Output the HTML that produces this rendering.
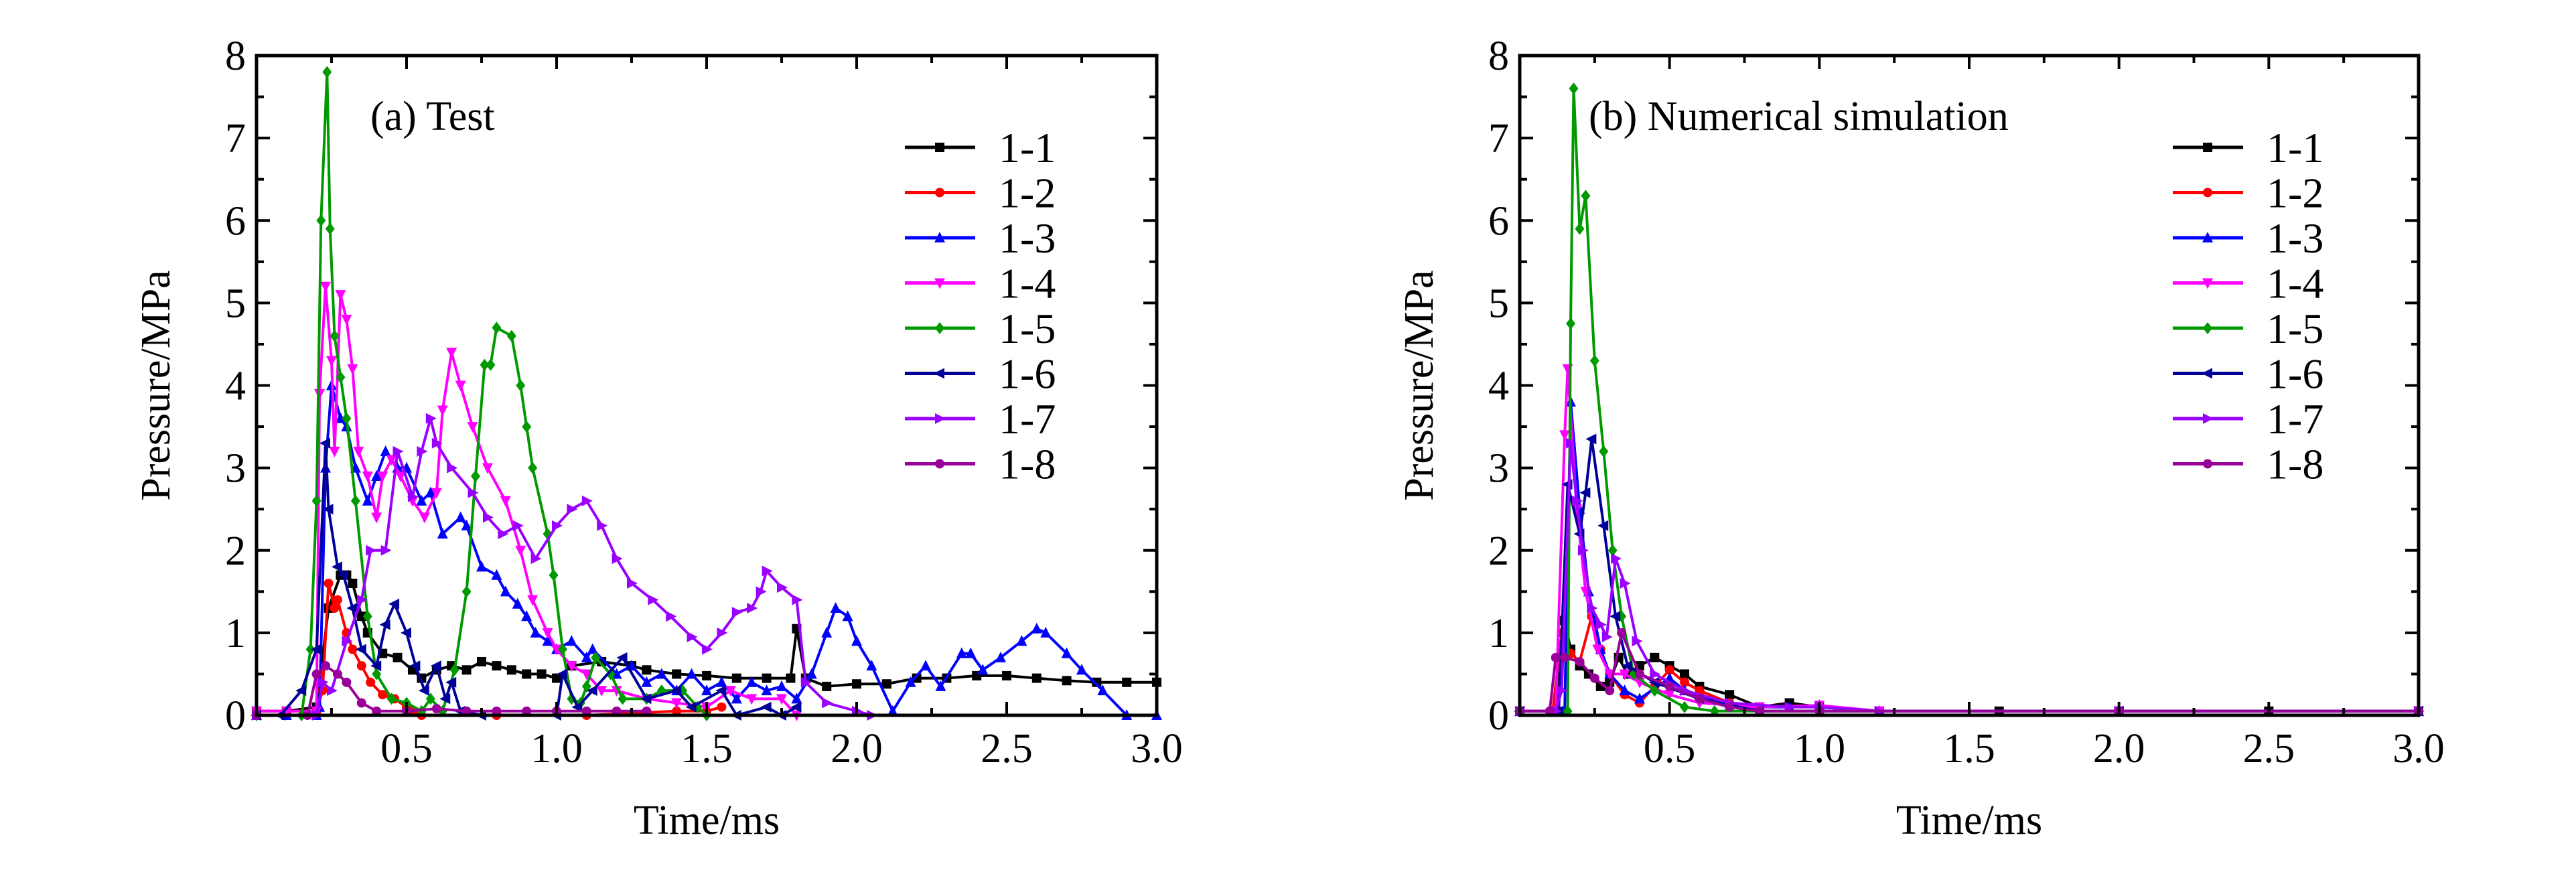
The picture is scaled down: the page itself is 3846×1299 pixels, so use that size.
<!DOCTYPE html>
<html><head><meta charset="utf-8"><style>
html,body{margin:0;padding:0;background:#fff;}
svg{display:block;}
text{font-family:"Liberation Serif","DejaVu Serif",serif;}
</style></head><body>
<svg id="chart" width="3846" height="1299" viewBox="0 0 3846 1299" xmlns="http://www.w3.org/2000/svg" font-family="'Liberation Serif', serif"></svg>
<script>
const xTicks=[0.5,1.0,1.5,2.0,2.5,3.0];
const yTicks=[0,1,2,3,4,5,6,7,8];
const seriesNames=["1-1","1-2","1-3","1-4","1-5","1-6","1-7","1-8"];
const seriesColors=["#000000","#ff0000","#0000ff","#ff00ff","#009900","#000099","#9900ff","#990099"];
const seriesMarkers=["square","circle","up","down","diamond","left","right","circle"];

// (a) Test
const aT1=[0,0.1,0.2,0.24,0.28,0.3,0.32,0.35,0.37,0.42,0.47,0.52,0.55,0.6,0.65,0.7,0.75,0.8,0.85,0.9,0.95,1.0,1.05,1.15,1.25,1.3,1.4,1.5,1.6,1.7,1.78,1.8,1.83,1.9,2.0,2.1,2.2,2.3,2.4,2.5,2.6,2.7,2.8,2.9,3.0];
const aP1=[0.05,0.05,0.1,1.3,1.7,1.7,1.6,1.2,1.0,0.75,0.7,0.55,0.45,0.55,0.6,0.55,0.65,0.6,0.55,0.5,0.5,0.45,0.6,0.65,0.6,0.55,0.5,0.48,0.45,0.45,0.45,1.05,0.45,0.35,0.38,0.38,0.45,0.45,0.48,0.48,0.45,0.42,0.4,0.4,0.4];
const aT2=[0,0.1,0.2,0.22,0.24,0.26,0.27,0.3,0.32,0.35,0.38,0.42,0.46,0.5,0.52,0.55,0.8,1.1,1.4,1.5,1.55];
const aP2=[0.05,0.05,0.05,0.3,1.6,1.3,1.4,1.0,0.8,0.6,0.4,0.25,0.2,0.1,0.05,0,0,0,0.05,0.05,0.1];
const aT3=[0,0.1,0.2,0.21,0.23,0.25,0.28,0.3,0.33,0.37,0.4,0.43,0.47,0.5,0.55,0.58,0.62,0.68,0.7,0.75,0.8,0.83,0.87,0.9,0.93,0.97,1.0,1.05,1.1,1.12,1.2,1.25,1.3,1.35,1.4,1.45,1.5,1.55,1.6,1.65,1.7,1.75,1.8,1.85,1.9,1.93,1.97,2.0,2.05,2.12,2.18,2.23,2.28,2.35,2.38,2.42,2.48,2.55,2.6,2.63,2.7,2.75,2.82,2.9,3.0];
const aP3=[0,0,0,0.1,3.0,4.0,3.6,3.5,3.0,2.6,2.9,3.2,3.0,3.0,2.6,2.7,2.2,2.4,2.3,1.8,1.7,1.5,1.35,1.2,1.0,0.9,0.8,0.9,0.7,0.8,0.5,0.6,0.4,0.5,0.3,0.5,0.3,0.4,0.2,0.4,0.3,0.35,0.2,0.5,1.0,1.3,1.2,0.9,0.6,0.05,0.4,0.6,0.35,0.75,0.75,0.55,0.7,0.9,1.05,1.0,0.75,0.55,0.3,0,0];
const aT4=[0,0.1,0.2,0.21,0.23,0.25,0.26,0.28,0.3,0.32,0.34,0.37,0.4,0.42,0.45,0.48,0.52,0.56,0.6,0.62,0.65,0.68,0.72,0.77,0.83,0.88,0.92,0.97,1.0,1.05,1.1,1.15,1.2,1.3,1.4,1.5,1.58,1.65,1.75,1.8];
const aP4=[0.05,0.05,0.05,3.9,5.2,4.3,3.2,5.1,4.8,4.2,3.2,2.9,2.4,2.9,3.1,2.9,2.6,2.4,2.7,3.7,4.4,4.0,3.5,3.0,2.6,2.0,1.4,1.0,0.8,0.6,0.5,0.3,0.3,0.2,0.15,0.1,0.3,0.2,0.2,0];
const aT5=[0,0.15,0.18,0.2,0.215,0.235,0.245,0.26,0.28,0.3,0.33,0.37,0.4,0.45,0.5,0.55,0.58,0.62,0.66,0.7,0.73,0.76,0.78,0.8,0.85,0.88,0.9,0.92,0.97,0.99,1.02,1.05,1.08,1.1,1.13,1.18,1.22,1.3,1.35,1.42,1.47,1.5];
const aP5=[0,0,0.8,2.6,6.0,7.8,5.9,4.6,4.1,3.6,2.6,1.2,0.5,0.2,0.15,0.05,0.2,0.05,0.55,1.5,2.9,4.25,4.25,4.7,4.6,4.0,3.5,3.0,2.2,1.7,0.8,0.2,0.15,0.35,0.7,0.5,0.2,0.2,0.3,0.3,0.1,0];
const aT6=[0,0.08,0.15,0.2,0.23,0.24,0.27,0.29,0.32,0.35,0.4,0.43,0.46,0.5,0.53,0.56,0.6,0.63,0.65,0.68,0.75,1.0,1.02,1.07,1.12,1.22,1.3,1.4,1.45,1.55,1.6,1.7,1.75,1.8];
const aP6=[0,0,0.3,0.8,3.3,2.5,1.8,1.7,1.3,0.8,0.6,1.1,1.35,1.0,0.6,0.3,0.6,0.2,0.4,0.05,0,0,0.5,0.1,0.3,0.7,0.2,0.3,0.1,0.3,0,0.1,0,0.1];
const aT7=[0,0.2,0.22,0.25,0.3,0.35,0.38,0.43,0.47,0.52,0.55,0.58,0.6,0.65,0.72,0.77,0.82,0.87,0.93,1.0,1.05,1.1,1.15,1.2,1.25,1.32,1.38,1.45,1.5,1.55,1.6,1.65,1.68,1.7,1.75,1.8,1.83,1.9,2.0,2.05];
const aP7=[0,0,0.4,0.3,0.9,1.4,2.0,2.0,3.2,2.65,3.2,3.6,3.3,3.0,2.7,2.4,2.2,2.3,1.9,2.3,2.5,2.6,2.3,1.9,1.6,1.4,1.2,0.95,0.8,1.0,1.25,1.3,1.5,1.75,1.55,1.4,0.4,0.15,0.05,0];
const aT8=[0,0.17,0.2,0.23,0.27,0.3,0.35,0.4,0.5,0.6,0.7,0.8,0.9,1.0,1.1,1.2,1.3];
const aP8=[0,0,0.5,0.6,0.5,0.4,0.15,0.05,0.05,0.08,0.05,0.05,0.05,0.05,0.05,0.05,0.05];

// (b) Numerical simulation
const bT1=[0,0.12,0.15,0.17,0.2,0.23,0.27,0.3,0.33,0.36,0.4,0.45,0.5,0.55,0.6,0.7,0.8,0.9,1.0,1.2,1.6,2.0,2.5,3.0];
const bP1=[0.05,0.05,1.15,0.8,0.6,0.5,0.35,0.4,0.7,0.5,0.6,0.7,0.6,0.5,0.35,0.25,0.1,0.15,0.1,0.05,0.05,0.05,0.05,0.05];
const bT2=[0,0.11,0.14,0.17,0.2,0.24,0.27,0.3,0.35,0.4,0.45,0.5,0.55,0.6,0.7,0.8,1.2,2.0,3.0];
const bP2=[0.05,0.05,1.0,0.75,0.65,1.2,0.8,0.5,0.25,0.15,0.35,0.55,0.4,0.3,0.15,0.05,0.05,0.05,0.05];
const bT3=[0,0.15,0.17,0.2,0.23,0.27,0.3,0.35,0.4,0.5,0.55,0.7,0.9,1.0,1.2,2.0,3.0];
const bP3=[0.05,0.05,3.8,2.5,1.5,0.8,0.5,0.3,0.2,0.45,0.3,0.1,0.1,0.12,0.05,0.05,0.05];
const bT4=[0,0.12,0.15,0.16,0.19,0.22,0.26,0.3,0.35,0.4,0.5,0.6,0.8,1.0,1.2,2.0,3.0];
const bP4=[0.05,0.05,3.4,4.2,2.5,1.5,0.8,0.5,0.5,0.4,0.25,0.15,0.1,0.12,0.05,0.05,0.05];
const bT5=[0,0.16,0.17,0.18,0.2,0.22,0.25,0.28,0.31,0.34,0.38,0.45,0.55,0.65,1.0,2.0,3.0];
const bP5=[0.05,0.05,4.75,7.6,5.9,6.3,4.3,3.2,2.0,1.2,0.5,0.3,0.1,0.05,0.05,0.05,0.05];
const bT6=[0,0.13,0.16,0.2,0.22,0.24,0.28,0.32,0.36,0.45,0.6,0.8,1.0,2.0,3.0];
const bP6=[0.05,0.05,2.8,2.2,2.7,3.35,2.3,1.2,0.6,0.4,0.2,0.05,0.05,0.05,0.05];
const bT7=[0,0.12,0.14,0.17,0.19,0.21,0.24,0.27,0.29,0.32,0.35,0.39,0.45,0.55,0.7,0.9,1.0,1.2,2.0,3.0];
const bP7=[0.05,0.05,0.3,3.3,2.6,2.0,1.3,1.1,0.95,1.9,1.6,0.9,0.5,0.3,0.15,0.1,0.1,0.05,0.05,0.05];
const bT8=[0,0.1,0.12,0.15,0.2,0.25,0.3,0.34,0.4,0.5,0.6,0.7,0.8,1.0,2.0,3.0];
const bP8=[0.05,0.05,0.7,0.7,0.65,0.45,0.3,1.0,0.5,0.35,0.2,0.1,0.05,0.05,0.05,0.05];

const panelA={T:[aT1,aT2,aT3,aT4,aT5,aT6,aT7,aT8],P:[aP1,aP2,aP3,aP4,aP5,aP6,aP7,aP8],x0:383,x1:1727,y0:1068,y1:83,title:"(a) Test",titleX:553,legX:1351,key:"test"};
const panelB={T:[bT1,bT2,bT3,bT4,bT5,bT6,bT7,bT8],P:[bP1,bP2,bP3,bP4,bP5,bP6,bP7,bP8],x0:2269,x1:3611,y0:1068,y1:83,title:"(b) Numerical simulation",titleX:2372,legX:3244,key:"sim"};

const NS="http://www.w3.org/2000/svg";
const FONT="Liberation Serif, DejaVu Serif, serif";
const svg=document.getElementById("chart");
function mk(tag,attrs,parent){const e=document.createElementNS(NS,tag);for(const k in attrs)e.setAttribute(k,attrs[k]);(parent||svg).appendChild(e);return e;}
function txt(attrs,parent,s){attrs["font-family"]=FONT;const e=mk("text",attrs,parent);e.textContent=s;return e;}
function marker(g,type,x,y,c){
  const s=7;let e;
  if(type==="square")e=mk("rect",{x:x-s,y:y-s,width:2*s,height:2*s,fill:c},g);
  else if(type==="circle")e=mk("circle",{cx:x,cy:y,r:s,fill:c},g);
  else{let p;
    if(type==="up")p=[[x,y-s-2],[x-s-1,y+s],[x+s+1,y+s]];
    else if(type==="down")p=[[x,y+s+2],[x-s-1,y-s],[x+s+1,y-s]];
    else if(type==="left")p=[[x-s-2,y],[x+s,y-s-1],[x+s,y+s+1]];
    else if(type==="right")p=[[x+s+2,y],[x-s,y-s-1],[x-s,y+s+1]];
    else p=[[x,y-s-2],[x+s,y],[x,y+s+2],[x-s,y]];
    e=mk("polygon",{points:p.map(q=>q.join(",")).join(" "),fill:c},g);}
  
  
}
function drawPanel(P){
  const sx=t=>P.x0+(t/3)*(P.x1-P.x0);
  const sy=v=>P.y0-(v/8)*(P.y0-P.y1);
  const g=mk("g",{});
  
  
  for(let i=0;i<8;i++){
    const sg=mk("g",{},g);
    
    
    const T=P.T[i],V=P.P[i];
    const pts=T.map((t,j)=>sx(t).toFixed(1)+","+sy(V[j]).toFixed(1)).join(" ");
    const pl=mk("polyline",{points:pts,fill:"none",stroke:seriesColors[i],"stroke-width":4,"stroke-linejoin":"round"},sg);
    
    
    T.forEach((t,j)=>marker(sg,seriesMarkers[i],sx(t),sy(V[j]),seriesColors[i]));
  }
  const fr=mk("rect",{x:P.x0,y:P.y1,width:P.x1-P.x0,height:P.y0-P.y1,fill:"none",stroke:"#000","stroke-width":5},g);
  
  
  for(let k=1;k<=12;k++){
    const t=k*0.25,x=sx(t),L=(k%2===0)?20:11;
    mk("line",{x1:x,y1:P.y0,x2:x,y2:P.y0-L,stroke:"#000","stroke-width":4},g);
    mk("line",{x1:x,y1:P.y1,x2:x,y2:P.y1+L,stroke:"#000","stroke-width":4},g);
  }
  xTicks.forEach(t=>{
    const tx=txt({x:sx(t),y:1138,"font-size":62,"text-anchor":"middle"},g,t.toFixed(1));
    
    
  });
  for(let k=1;k<16;k++){
    const v=k*0.5,y=sy(v),L=(k%2===0)?20:11;
    mk("line",{x1:P.x0,y1:y,x2:P.x0+L,y2:y,stroke:"#000","stroke-width":4},g);
    mk("line",{x1:P.x1,y1:y,x2:P.x1-L,y2:y,stroke:"#000","stroke-width":4},g);
  }
  yTicks.forEach(v=>{
    const tx=txt({x:P.x0-16,y:sy(v)+21,"font-size":62,"text-anchor":"end"},g,String(v));
    
    
  });
  const xt=txt({x:(P.x0+P.x1)/2,y:1245,"font-size":62,"text-anchor":"middle"},g,"Time/ms");
  
  
  const cx=P.x0-150,cy=(P.y0+P.y1)/2;
  const yt=txt({x:cx,y:cy,"font-size":62,"text-anchor":"middle",transform:`rotate(-90 ${cx} ${cy})`,"dominant-baseline":"central"},g,"Pressure/MPa");
  
  
  const tt=txt({x:P.titleX,y:194,"font-size":62},g,P.title);
  
  
  const lg=mk("g",{},g);
  
  
  for(let i=0;i<8;i++){
    const y=220+i*67.5;
    const eg=mk("g",{},lg);
    
    
    mk("line",{x1:P.legX,y1:y,x2:P.legX+105,y2:y,stroke:seriesColors[i],"stroke-width":5},eg);
    marker(eg,seriesMarkers[i],P.legX+52,y,seriesColors[i]);
    txt({x:P.legX+140,y:y+22,"font-size":64},eg,seriesNames[i]);
  }
}
drawPanel(panelA);
drawPanel(panelB);
</script>
</body></html>
